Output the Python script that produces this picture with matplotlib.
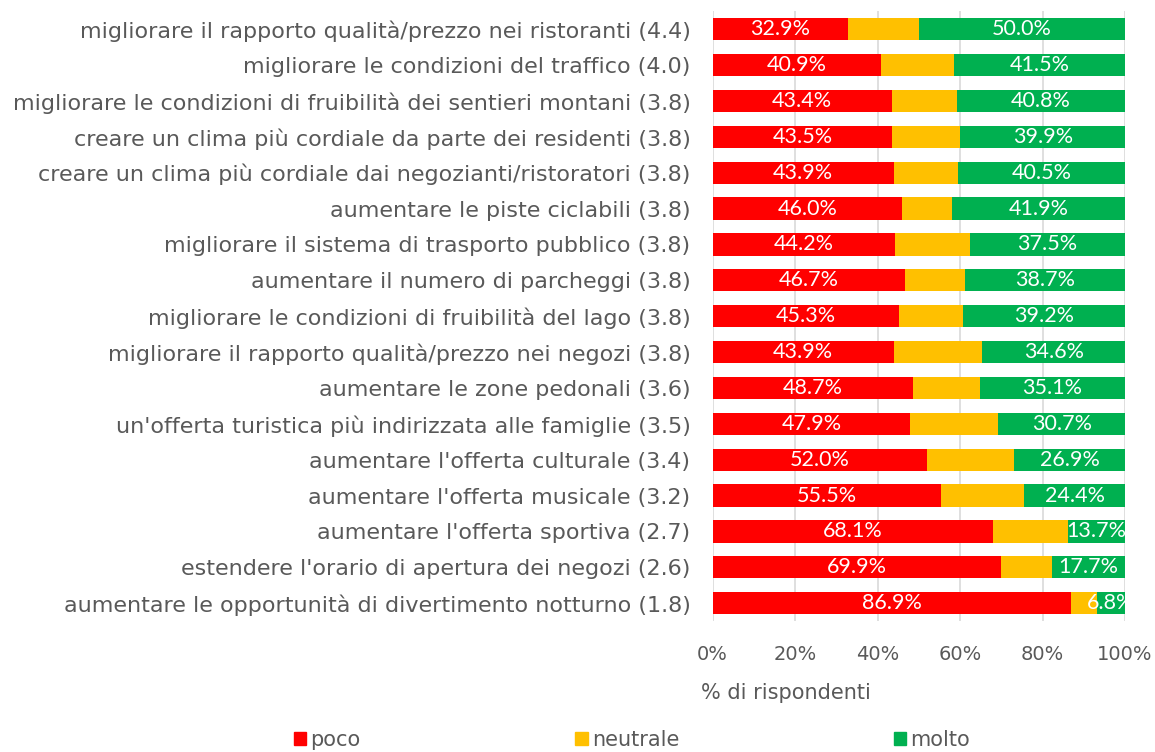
import matplotlib.pyplot as plt
import numpy as np
from matplotlib.patches import Patch

categorie = [
    "migliorare il rapporto qualità/prezzo nei ristoranti (4.4)",
    "migliorare le condizioni del traffico (4.0)",
    "migliorare le condizioni di fruibilità dei sentieri montani (3.8)",
    "creare un clima più cordiale da parte dei residenti (3.8)",
    "creare un clima più cordiale dai negozianti/ristoratori (3.8)",
    "aumentare le piste ciclabili (3.8)",
    "migliorare il sistema di trasporto pubblico (3.8)",
    "aumentare il numero di parcheggi (3.8)",
    "migliorare le condizioni di fruibilità del lago (3.8)",
    "migliorare il rapporto qualità/prezzo nei negozi (3.8)",
    "aumentare le zone pedonali (3.6)",
    "un'offerta turistica più indirizzata alle famiglie (3.5)",
    "aumentare l'offerta culturale (3.4)",
    "aumentare l'offerta musicale (3.2)",
    "aumentare l'offerta sportiva (2.7)",
    "estendere l'orario di apertura dei negozi (2.6)",
    "aumentare le opportunità di divertimento notturno (1.8)",
]
poco = [32.9, 40.9, 43.4, 43.5, 43.9, 46.0, 44.2, 46.7, 45.3, 43.9, 48.7, 47.9, 52.0, 55.5, 68.1, 69.9, 86.9]
neutrale = [17.1, 17.6, 15.8, 16.6, 15.6, 12.1, 18.3, 14.6, 15.5, 21.5, 16.2, 21.4, 21.1, 20.1, 18.2, 12.4, 6.3]
molto = [50.0, 41.5, 40.8, 39.9, 40.5, 41.9, 37.5, 38.7, 39.2, 34.6, 35.1, 30.7, 26.9, 24.4, 13.7, 17.7, 6.8]

col_poco = "#FF0000"
col_neu = "#FFC000"
col_molto = "#00B050"
grigio = "#595959"

plt.rcParams['font.family'] = ['DejaVu Sans']

fig = plt.figure(figsize=(11.55, 7.52), dpi=100)
ax = fig.add_axes([0.617, 0.174, 0.357, 0.811])

y = np.arange(len(categorie))
p = np.array(poco) / 100
n = np.array(neutrale) / 100
m = np.array(molto) / 100

h = 0.62
ax.barh(y, p, height=h, color=col_poco, zorder=2)
ax.barh(y, n, left=p, height=h, color=col_neu, zorder=2)
ax.barh(y, m, left=p + n, height=h, color=col_molto, zorder=2)

# etichette bianche su rosso e verde
for i in range(len(categorie)):
    ax.text(p[i] / 2, y[i], f"{poco[i]:.1f}%", ha='center', va='center',
            color='white', fontsize=15.5, family=['Lato', 'DejaVu Sans'], zorder=3)
    ax.text(p[i] + n[i] + m[i] / 2, y[i], f"{molto[i]:.1f}%", ha='center', va='center',
            color='white', fontsize=15.5, family=['Lato', 'DejaVu Sans'], zorder=3)

ax.set_xlim(0, 1)
ax.set_ylim(len(categorie) - 0.5, -0.5)
ax.set_yticks(y)
ax.set_yticklabels(categorie, fontsize=16, color=grigio)
ax.set_xticks(np.arange(0, 1.01, 0.2))
ax.set_xticklabels([f"{int(v*100)}%" for v in np.arange(0, 1.01, 0.2)], fontsize=14, color=grigio)
ax.tick_params(axis='both', length=0)
ax.tick_params(axis='x', pad=17)
ax.tick_params(axis='y', pad=16)
ax.xaxis.grid(True, color='#D9D9D9', linewidth=1.2, zorder=0)
for s in ax.spines.values():
    s.set_visible(False)
ax.set_xlabel("% di rispondenti", fontsize=15, color=grigio, labelpad=14)
ax.xaxis.label.set_x(0.177)

handles = [Patch(color=col_poco), Patch(color=col_neu), Patch(color=col_molto)]
fig.legend(handles, ["poco", "neutrale", "molto"], loc='lower center', ncol=3,
           bbox_to_anchor=(0.547, -0.022), frameon=False, fontsize=15,
           handlelength=0.6, handleheight=0.6, handletextpad=0.2, columnspacing=10.3,
           labelcolor=grigio)

plt.savefig("out.png", dpi=100)
